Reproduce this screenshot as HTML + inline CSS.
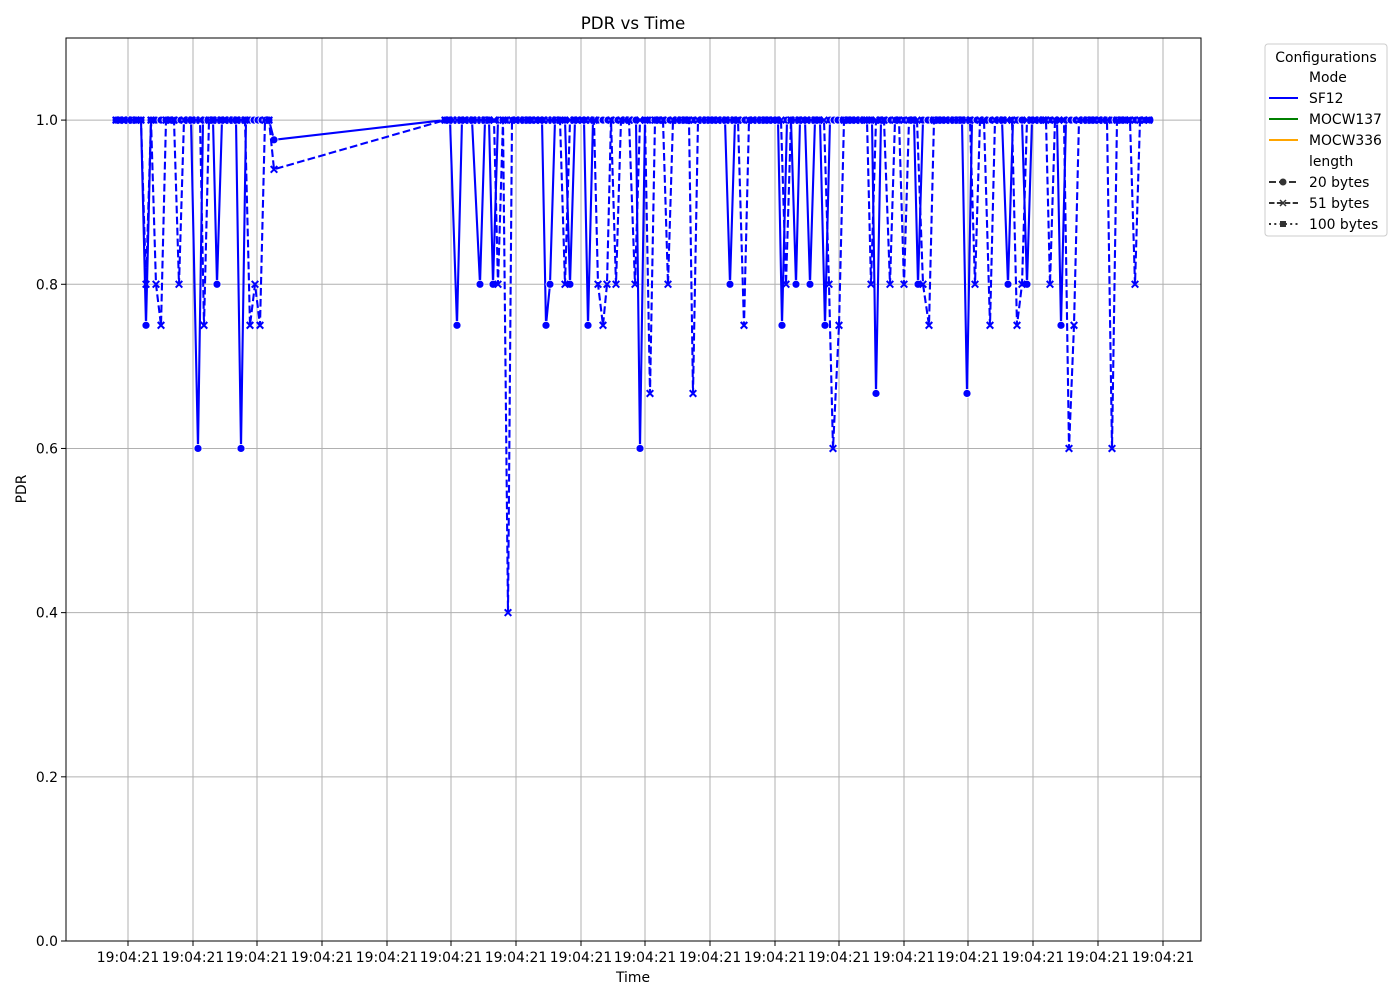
<!DOCTYPE html>
<html><head><meta charset="utf-8"><style>
body{margin:0;background:#fff;font-family:"DejaVu Sans","Liberation Sans",sans-serif;}
svg text{font-family:"DejaVu Sans","Liberation Sans",sans-serif;}
</style></head><body>
<svg id="chart" width="1400" height="1000" xmlns="http://www.w3.org/2000/svg">
<rect width="1400" height="1000" fill="#fff"/>
<g id="grid"></g>
<g id="series"></g>
<rect x="66" y="38" width="1135" height="903" fill="none" stroke="#000" stroke-width="1"/>
<g id="axes"></g>
<text x="633" y="29" font-size="16.7" text-anchor="middle">PDR vs Time</text>
<text x="633" y="982" font-size="13.9" text-anchor="middle">Time</text>
<text transform="translate(26,489) rotate(-90)" font-size="13.9" text-anchor="middle">PDR</text>
<g>
<rect x="1265" y="44" width="122" height="192" rx="3" fill="#fff" stroke="#ccc" stroke-width="1"/>
<text x="1326" y="62" font-size="13.9" text-anchor="middle">Configurations</text>
<text x="1309" y="82" font-size="13.9">Mode</text>
<line x1="1269" y1="98" x2="1298" y2="98" stroke="#0000ff" stroke-width="2"/>
<text x="1309" y="103" font-size="13.9">SF12</text>
<line x1="1269" y1="119" x2="1298" y2="119" stroke="#008000" stroke-width="2"/>
<text x="1309" y="124" font-size="13.9">MOCW137</text>
<line x1="1269" y1="140" x2="1298" y2="140" stroke="#ffa500" stroke-width="2"/>
<text x="1309" y="145" font-size="13.9">MOCW336</text>
<text x="1309" y="166" font-size="13.9">length</text>
<line x1="1269" y1="182" x2="1298" y2="182" stroke="#333" stroke-width="2" stroke-dasharray="7,3"/>
<circle cx="1283" cy="182" r="3.5" fill="#333"/>
<text x="1309" y="187" font-size="13.9">20 bytes</text>
<line x1="1269" y1="203" x2="1298" y2="203" stroke="#333" stroke-width="2" stroke-dasharray="5.5,2.4"/>
<path d="M1280,200 l6,6 M1286,200 l-6,6" stroke="#333" stroke-width="1.5"/>
<text x="1309" y="208" font-size="13.9">51 bytes</text>
<line x1="1269" y1="224" x2="1298" y2="224" stroke="#333" stroke-width="2" stroke-dasharray="2,3.3"/>
<rect x="1280" y="221" width="6" height="6" fill="#333"/>
<text x="1309" y="229" font-size="13.9">100 bytes</text>
</g>
</svg>
<script>
const yTicks=[0,0.2,0.4,0.6,0.8,1.0];
const xTicks=[128,193,257,322,387,451,516,581,645,710,775,839,904,968,1033,1098,1163];
const xTickLabel="19:04:21";
const sf12_20=[[116,1],[121,1],[126,1],[131,1],[136,1],[141,1],[146,0.75],[151,1],[156,1],[161,1],[166,1],[171,1],[176,1],[181,1],[186,1],[191,1],[198,0.6],[203,1],[208,1],[213,1],[217,0.8],[222,1],[227,1],[232,1],[236,1],[241,0.6],[246,1],[250,1],[254,1],[258,1],[262,1],[266,1],[269,1],[274,0.976],[445,1],[450,1],[457,0.75],[462,1],[467,1],[472,1],[480,0.8],[485,1],[489,1],[493,0.8],[498,1],[503,1],[508,1],[513,1],[518,1],[523,1],[528,1],[533,1],[538,1],[542,1],[546,0.75],[550,0.8],[555,1],[560,1],[565,1],[570,0.8],[575,1],[580,1],[584,1],[588,0.75],[593,1],[598,1],[603,1],[608,1],[613,1],[618,1],[623,1],[628,1],[632,1],[636,1],[640,0.6],[645,1],[650,1],[655,1],[660,1],[665,1],[670,1],[675,1],[680,1],[685,1],[690,1],[695,1],[700,1],[705,1],[710,1],[715,1],[720,1],[725,1],[730,0.8],[735,1],[740,1],[745,1],[750,1],[755,1],[760,1],[765,1],[770,1],[775,1],[778,1],[782,0.75],[787,1],[791,1],[796,0.8],[800,1],[805,1],[810,0.8],[815,1],[820,1],[825,0.75],[830,1],[834,1],[838,1],[843,1],[848,1],[853,1],[858,1],[863,1],[868,1],[872,1],[876,0.667],[881,1],[886,1],[891,1],[896,1],[900,1],[905,1],[910,1],[914,1],[918,0.8],[923,1],[928,1],[933,1],[938,1],[943,1],[948,1],[953,1],[958,1],[962,1],[967,0.667],[972,1],[977,1],[982,1],[987,1],[992,1],[997,1],[1002,1],[1008,0.8],[1013,1],[1018,1],[1022,1],[1027,0.8],[1032,1],[1037,1],[1042,1],[1047,1],[1052,1],[1057,1],[1061,0.75],[1066,1],[1071,1],[1076,1],[1081,1],[1086,1],[1091,1],[1096,1],[1101,1],[1106,1],[1111,1],[1116,1],[1121,1],[1126,1],[1131,1],[1136,1],[1141,1],[1146,1],[1150,1]];
const sf12_51=[[116,1],[120,1],[124,1],[128,1],[132,1],[136,1],[141,1],[146,0.8],[151,1],[156,0.8],[161,0.75],[166,1],[170,1],[174,1],[179,0.8],[184,1],[188,1],[192,1],[196,1],[200,1],[204,0.75],[209,1],[213,1],[217,1],[221,1],[225,1],[229,1],[233,1],[237,1],[241,1],[245,1],[250,0.75],[255,0.8],[260,0.75],[265,1],[269,1],[274,0.94],[445,1],[449,1],[453,1],[457,1],[461,1],[465,1],[469,1],[473,1],[477,1],[481,1],[485,1],[489,1],[494,1],[498,0.8],[503,1],[508,0.4],[512,1],[516,1],[520,1],[524,1],[528,1],[532,1],[536,1],[540,1],[544,1],[548,1],[552,1],[556,1],[560,1],[565,0.8],[570,1],[574,1],[578,1],[582,1],[586,1],[590,1],[594,1],[598,0.8],[603,0.75],[607,0.8],[611,1],[616,0.8],[621,1],[625,1],[629,1],[635,0.8],[640,1],[645,1],[650,0.667],[655,1],[659,1],[663,1],[668,0.8],[673,1],[677,1],[681,1],[685,1],[689,1],[693,0.667],[698,1],[702,1],[706,1],[710,1],[714,1],[718,1],[722,1],[726,1],[730,1],[734,1],[738,1],[744,0.75],[749,1],[753,1],[757,1],[761,1],[765,1],[769,1],[773,1],[777,1],[781,1],[786,0.8],[791,1],[795,1],[799,1],[803,1],[807,1],[811,1],[815,1],[819,1],[824,1],[829,0.8],[833,0.6],[839,0.75],[844,1],[848,1],[852,1],[856,1],[860,1],[864,1],[867,1],[871,0.8],[876,1],[880,1],[884,1],[890,0.8],[895,1],[899,1],[904,0.8],[909,1],[913,1],[917,1],[923,0.8],[929,0.75],[934,1],[938,1],[942,1],[946,1],[950,1],[954,1],[958,1],[962,1],[966,1],[970,1],[975,0.8],[980,1],[984,1],[990,0.75],[995,1],[999,1],[1003,1],[1007,1],[1012,1],[1017,0.75],[1022,0.8],[1027,1],[1031,1],[1035,1],[1039,1],[1043,1],[1046,1],[1050,0.8],[1055,1],[1059,1],[1064,1],[1069,0.6],[1074,0.75],[1079,1],[1083,1],[1087,1],[1091,1],[1095,1],[1099,1],[1103,1],[1107,1],[1112,0.6],[1117,1],[1121,1],[1125,1],[1130,1],[1135,0.8],[1140,1],[1144,1],[1149,1]];
const NS="http://www.w3.org/2000/svg";
const X0=66,X1=1201,Y0=941,Y1=38,TMIN=66,TMAX=1201,YMIN=0,YMAX=1.1;
function xs(t){return X0+(t-TMIN)/(TMAX-TMIN)*(X1-X0);}
function ys(v){return Y0-(v-YMIN)/(YMAX-YMIN)*(Y0-Y1);}
function mk(tag,attrs,parent){const e=document.createElementNS(NS,tag);for(const k in attrs)e.setAttribute(k,attrs[k]);parent.appendChild(e);return e;}
const grid=document.getElementById('grid'),axes=document.getElementById('axes'),ser=document.getElementById('series');
yTicks.forEach(v=>{const y=ys(v);
 const g=mk('line',{x1:X0,x2:X1,y1:y,y2:y,stroke:'#b0b0b0','stroke-width':1},grid);
 
 
 mk('line',{x1:X0-5,x2:X0,y1:y,y2:y,stroke:'#000'},axes);
 const t=mk('text',{x:X0-8,y:y+5,'font-size':13.9,'text-anchor':'end'},axes);t.textContent=v.toFixed(1);
 
 
});
xTicks.forEach(tv=>{const x=xs(tv);
 const g=mk('line',{x1:x,x2:x,y1:Y1,y2:Y0,stroke:'#b0b0b0','stroke-width':1},grid);
 
 
 mk('line',{x1:x,x2:x,y1:Y0,y2:Y0+5,stroke:'#000'},axes);
 const t=mk('text',{x:x,y:Y0+21,'font-size':13.9,'text-anchor':'middle'},axes);t.textContent=xTickLabel;
 
 
});
function drawSeries(data,name,dash,marker){
 const pts=data.map(d=>xs(d[0]).toFixed(1)+','+ys(d[1]).toFixed(1)).join(' ');
 const pl=mk('polyline',{points:pts,fill:'none',stroke:'#0000ff','stroke-width':2.1,'stroke-dasharray':dash,'stroke-linejoin':'round'},ser);
 
 
 data.forEach(d=>{const x=xs(d[0]),y=ys(d[1]);let m;
  if(marker==='o'){m=mk('circle',{cx:x,cy:y,r:4,fill:'#0000ff',stroke:'#fff','stroke-width':0.8},ser);}
  else{m=mk('path',{d:`M${x-3.3},${y-3.3}L${x+3.3},${y+3.3}M${x+3.3},${y-3.3}L${x-3.3},${y+3.3}`,stroke:'#0000ff','stroke-width':2},ser);}
  
  
 });
}
drawSeries(sf12_20,'sf12-20-bytes','none','o');
drawSeries(sf12_51,'sf12-51-bytes','7.7,3.3','x');
</script>
</body></html>
